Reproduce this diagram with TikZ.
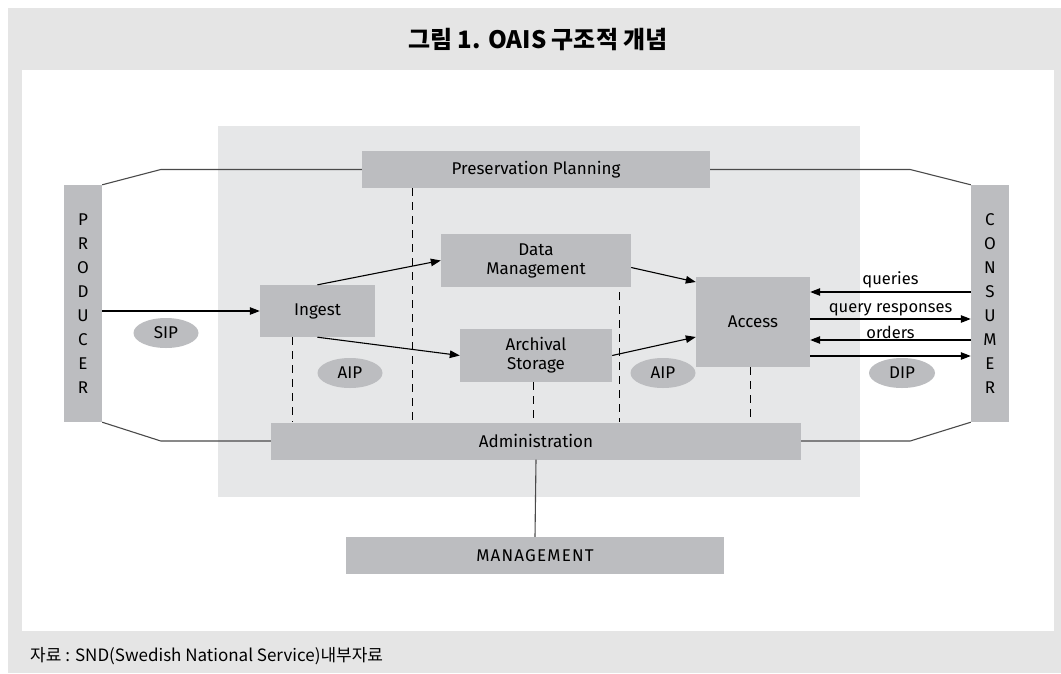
\documentclass[tikz,border=0pt]{standalone}
\usepackage{fontspec}
\setmainfont{Fira Sans}
\newfontfamily\krfont{Noto Sans CJK KR}
\usepackage{tikz}
\usetikzlibrary{calc,positioning,arrows.meta,shapes.geometric}

\definecolor{framegray}{HTML}{E5E5E5}
\definecolor{panelgray}{HTML}{E6E7E8}
\definecolor{boxgray}{HTML}{BCBDC0}
\definecolor{linegray}{HTML}{4A4A4A}

\begin{document}
\begin{tikzpicture}[x=1pt,y=-1pt,
  box/.style={fill=boxgray, inner sep=0pt, align=center, font=\fontsize{17}{19}\selectfont},
  side/.style={box, minimum width=38pt, minimum height=237pt, font=\fontsize{17}{24}\selectfont},
  pkg/.style={ellipse, fill=boxgray, inner sep=0pt, minimum width=65pt, minimum height=30pt, font=\fontsize{17}{19}\selectfont},
  link/.style={draw=linegray, line width=1.1pt},
  flow/.style={-{Triangle[length=10pt,width=7.5pt]}, line width=1.1pt, black},
  guide/.style={dashed, dash pattern=on 8pt off 6pt, line width=1pt, black},
  msg/.style={font=\fontsize{16.5}{18}\selectfont, inner sep=1pt}]

% =====================
% Frame, title and source line
% =====================
\useasboundingbox (0,0) rectangle (1061,673);
\fill[framegray] (8,8) rectangle (1061,673);
\fill[white] (22,70) rectangle (1054,631);
\node[font=\krfont\bfseries\fontsize{24}{27}\selectfont] (title) at (538,40) {그림 1. OAIS 구조적 개념};
\node[anchor=west, inner sep=0pt, font=\krfont\fontsize{17}{19}\selectfont] (source) at (30,656) {자료 : SND(Swedish National Service)내부자료};

% =====================
% The archive (shaded panel)
% =====================
\fill[panelgray] (218,126) rectangle (860,497);

% =====================
% Functional entities
% =====================
\node[box, minimum width=348pt, minimum height=37pt] (pp) at (536,169.5) {Preservation Planning};
\node[box, minimum width=530pt, minimum height=37pt] (admin) at (536,441) {Administration};
\node[box, minimum width=378pt, minimum height=37pt] (mgmt) at (535,555.5) {\addfontfeature{LetterSpace=7}MANAGEMENT};
\node[box, minimum width=115pt, minimum height=52pt] (ingest) at (317.5,311) {Ingest};
\node[box, minimum width=190pt, minimum height=53pt] (dm) at (536,260.5) {Data\\Management};
\node[box, minimum width=152pt, minimum height=53pt] (as) at (536,355.5) {Archival\\Storage};
\node[box, minimum width=114pt, minimum height=90pt] (access) at (753,322) {Access};

% Producer and consumer
\node[side] (producer) at (83,303.5) {P\\R\\O\\D\\U\\C\\E\\R};
\node[side] (consumer) at (990,303.5) {C\\O\\N\\S\\U\\M\\E\\R};

% =====================
% Lines to producer / consumer
% =====================
\draw[link] (pp.west) -- ++(-201,0) -- (producer.north east);
\draw[link] (pp.east) -- ++(200,0) -- (consumer.north west);
\draw[link] (admin.west) -- ++(-110,0) -- (producer.south east);
\draw[link] (admin.east) -- ++(109,0) -- (consumer.south west);
\draw[link] (admin.south) -- (mgmt.north);

% =====================
% Dashed links to administration
% =====================
\draw[guide] ([xshift=-25pt]ingest.south) -- ([xshift=-25pt]ingest.south |- admin.north);
\draw[guide] ([xshift=-124pt]pp.south) -- ([xshift=-124pt]pp.south |- admin.north);
\draw[guide] ([xshift=83pt,yshift=-5pt]dm.south) -- ([xshift=83pt]dm.south |- admin.north);
\draw[guide] ([xshift=-3pt]as.south) -- ([xshift=-3pt]as.south |- admin.north);
\draw[guide] ([xshift=-3pt]access.south) -- ([xshift=-3pt]access.south |- admin.north);

% =====================
% Information flows
% =====================
\draw[flow] (ingest.west -| producer.east) -- (ingest.west);
\draw[flow] (ingest.north) -- (dm.west);
\draw[flow] (ingest.south) -- (as.west);
\draw[flow] ([yshift=-7pt]dm.east) -- ([yshift=40pt]access.west);
\draw[flow] (as.east) -- ([yshift=-15pt]access.west);

\draw[flow] ([yshift=30pt]access.east -| consumer.west) -- ([yshift=30pt]access.east) node[msg, midway, above=2pt] (queries) {queries};
\draw[flow] ([yshift=3pt]access.east) -- ([yshift=3pt]access.east -| consumer.west) node[msg, midway, above=1pt] (responses) {query responses};
\draw[flow] ([yshift=-18pt]access.east -| consumer.west) -- ([yshift=-18pt]access.east) node[msg, midway, above=0pt] (orders) {orders};
\draw[flow] ([yshift=-34pt]access.east) -- ([yshift=-34pt]access.east -| consumer.west);

% Information packages
\node[pkg] (sip) at (166,333) {SIP};
\node[pkg] (aipa) at (350,373) {AIP};
\node[pkg] (aipb) at (663,373) {AIP};
\node[pkg, minimum width=66pt] (dip) at (902,373) {DIP};
\end{tikzpicture}
\end{document}
